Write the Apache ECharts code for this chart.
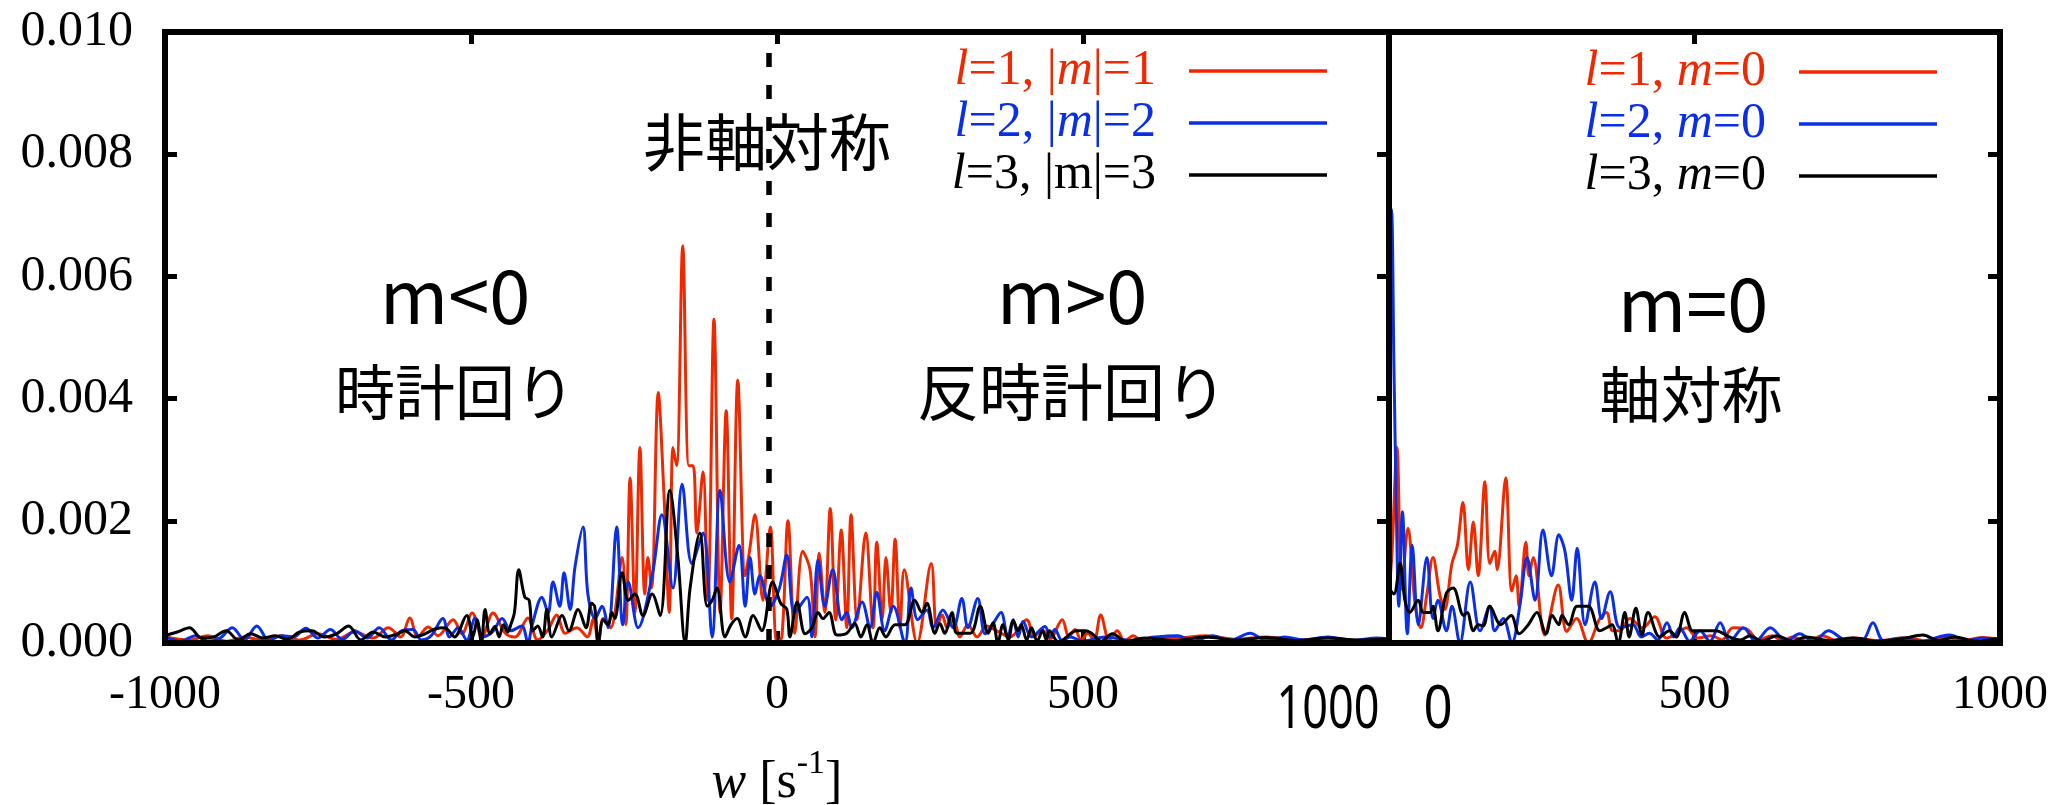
<!DOCTYPE html>
<html>
<head>
<meta charset="utf-8">
<script src="https://cdn.jsdelivr.net/npm/echarts@6/dist/echarts.min.js"></script>
<style>html,body{margin:0;padding:0;background:#fff}#c{width:2069px;height:805px}</style>
</head>
<body>
<div id="c"></div>
<script>
// ---------- data (w [s^-1], value) ----------
const leftRed = [[-1000,0.0001],[-960,0.00005],[-930,0.00012],[-900,0.00003],[-870,0.0001],[-840,0.00004],[-810,0.00012],[-780,0.00005],[-750,0.00015],[-720,0.00006],[-690,0.00018],[-660,0.00008],[-635,0.00025],[-615,0.0001],[-600,0.00041],[-587,0.0001],[-570,0.00026],[-554,0.00012],[-529,0.00038],[-515,0.00015],[-498,0.00049],[-482,0.0001],[-464,0.00049],[-444,0.00016],[-428,0.0001],[-407,0.00041],[-391,0.00005],[-374,0.00022],[-360,0.00046],[-346,0.00016],[-327,0.00025],[-310,0.0001],[-300,0.0004],[-292,0.0],[-284,0.0004],[-272,0.00025],[-253,0.0014],[-247,0.0003],[-240,0.0027],[-232,0.0005],[-224,0.0032],[-216,0.0008],[-211,0.0014],[-205,0.0009],[-194,0.0041],[-185,0.0025],[-176,0.0005],[-170,0.0032],[-164,0.0029],[-154,0.0065],[-144,0.0029],[-137,0.0029],[-131,0.0018],[-121,0.0028],[-113,0.0007],[-103,0.0053],[-93,0.0005],[-83,0.0038],[-74,0.0004],[-64,0.0043],[-52,0.0011],[-45,0.0015],[-36,0.0021],[-23,0.0007],[-11,0.0019],[0,0.0],[8,0.0001],[18,0.0020],[29,0.00016],[42,0.0015],[54,0.0012],[62,0.0001],[69,0.00147],[78,0.0005],[87,0.0022],[96,0.00038],[105,0.00185],[114,0.00025],[121,0.0021],[131,0.00038],[145,0.0018],[157,0.00025],[163,0.00165],[172,0.0004],[178,0.0014],[186,0.0005],[193,0.0017],[201,0.00025],[208,0.0012],[229,0.0],[252,0.0013],[261,0.00025],[270,0.00046],[278,0.00025],[288,0.0004],[299,0.0001],[312,0.0003],[327,0.0001],[343,0.00028],[359,0.0002],[381,0.0001],[408,0.00038],[420,0.0001],[433,0.00022],[446,0.00007],[466,0.00038],[477,0.0001],[487,0.00022],[497,0.00005],[508,0.00016],[518,0.00004],[529,0.00046],[543,0.00005],[556,0.0002],[568,0.00003],[582,0.00012],[597,0.00003],[614,0.0001],[650,0.00008],[700,0.00012],[750,0.00006],[800,0.0001],[850,0.00005],[900,0.00008],[950,0.00004],[1000,0.00006]];

const leftBlue = [[-1000,0.0001],[-975,0.00003],[-950,0.00012],[-930,0.00003],[-910,0.00008],[-890,0.00025],[-870,0.00005],[-850,0.00028],[-830,0.00004],[-810,0.00012],[-790,0.0001],[-770,0.00024],[-750,0.00008],[-730,0.00022],[-710,0.00006],[-690,0.0002],[-670,0.00008],[-650,0.00025],[-630,0.00005],[-613,0.0002],[-595,0.00022],[-581,0.00005],[-565,0.00012],[-546,0.0004],[-535,0.0001],[-521,0.00025],[-507,0.00005],[-493,0.00041],[-480,0.0001],[-465,0.00018],[-449,0.0004],[-435,0.0002],[-417,0.00028],[-407,0.0],[-400,0.0003],[-384,0.00075],[-374,0.00049],[-366,0.001],[-355,0.0006],[-348,0.00115],[-338,0.00055],[-330,0.00125],[-317,0.0019],[-309,0.0008],[-297,0.0004],[-286,0.0006],[-276,0.00025],[-262,0.0019],[-252,0.0003],[-243,0.001],[-227,0.00025],[-204,0.0011],[-188,0.0021],[-170,0.0009],[-155,0.0026],[-139,0.0013],[-121,0.0018],[-106,0.0001],[-93,0.0025],[-77,0.001],[-62,0.0016],[-52,0.0006],[-44,0.0014],[-36,0.0008],[-28,0.0011],[-11,0.0006],[4,0.0009],[16,0.00144],[29,0.0005],[49,0.00075],[57,0.0001],[67,0.00136],[78,0.0006],[91,0.0012],[106,0.00038],[114,0.0005],[122,0.00025],[139,0.00067],[152,0.00025],[163,0.00083],[176,0.0002],[190,0.0006],[209,0.0],[219,0.0009],[230,0.00038],[245,0.00054],[255,0.00025],[271,0.00054],[288,0.00025],[302,0.00073],[312,0.00025],[328,0.00073],[340,0.00015],[352,0.0003],[366,0.0005],[377,0.0001],[386,0.00038],[394,0.0001],[402,0.00035],[416,0.0001],[438,0.00027],[446,0.0001],[454,0.00022],[466,0.00004],[479,0.0001],[500,0.00003],[536,0.0001],[580,0.00004],[620,0.0001],[655,0.00012],[680,0.00003],[712,0.00012],[740,0.00004],[773,0.00016],[800,0.00004],[830,0.0001],[860,0.00005],[900,0.0001],[940,0.00004],[980,0.00008],[1000,0.00006]];

const leftBlack = [[-1000,0.00012],[-980,0.00018],[-960,0.00025],[-940,0.00008],[-920,0.0001],[-900,0.0002],[-880,0.00005],[-860,0.00015],[-840,0.00008],[-820,0.00012],[-800,0.00006],[-780,0.00018],[-760,0.0002],[-740,0.0001],[-720,0.00015],[-700,0.00028],[-680,0.00005],[-660,0.00018],[-640,0.0001],[-620,0.00015],[-608,0.0002],[-592,0.0001],[-575,0.00015],[-559,0.00023],[-543,0.00025],[-527,0.0001],[-507,0.00045],[-497,0.0001],[-490,0.00038],[-483,0.0],[-477,0.00055],[-469,0.00015],[-461,0.00027],[-454,0.0001],[-447,0.0003],[-440,0.00018],[-435,0.0003],[-429,0.0005],[-422,0.0012],[-412,0.00075],[-405,0.0007],[-399,0.0002],[-391,0.00028],[-383,0.0001],[-376,0.00055],[-368,0.0001],[-351,0.00045],[-340,0.0002],[-325,0.00055],[-312,0.00025],[-303,0.00065],[-298,0.0006],[-292,0.0],[-284,0.00038],[-276,0.0003],[-270,0.0005],[-265,0.0004],[-253,0.00115],[-243,0.0007],[-232,0.0008],[-219,0.00045],[-204,0.0008],[-191,0.00045],[-175,0.0025],[-162,0.0014],[-150,0.0],[-142,0.0009],[-126,0.0018],[-114,0.0006],[-106,0.0007],[-98,0.0009],[-85,0.0001],[-75,0.0003],[-65,0.0004],[-52,0.0001],[-39,0.00045],[-25,0.0002],[-7,0.001],[6,0.00065],[16,0.00055],[21,0.0001],[33,0.00067],[46,0.00015],[57,0.00025],[67,0.0005],[75,0.0004],[85,0.0005],[98,0.00013],[114,0.00016],[127,0.00032],[137,0.0001],[147,0.0003],[157,0.0],[168,0.00025],[178,0.0001],[193,0.0003],[209,0.0003],[225,0.0007],[237,0.0005],[245,0.00065],[258,0.00016],[266,0.00032],[274,0.00016],[286,0.0005],[294,0.00016],[316,0.00016],[332,0.0006],[345,0.00016],[353,0.00033],[361,0.0],[369,0.0003],[378,0.00005],[386,0.00037],[394,0.0002],[399,0.0003],[408,0.00005],[416,0.00025],[425,0.00003],[434,0.0002],[440,0.00005],[445,0.0002],[460,0.00002],[490,0.0002],[505,0.0002],[515,0.00015],[530,0.00003],[548,0.00015],[570,0.00003],[600,0.00008],[650,0.00004],[700,0.0001],[750,0.00005],[800,0.00009],[850,0.00004],[900,0.00008],[950,0.00005],[1000,0.00007]];

const rightRed = [[0,0.0008],[5,0.0015],[13,0.0032],[21,0.00088],[31,0.00188],[43,0.0006],[52,0.00025],[62,0.0008],[72,0.0014],[83,0.0008],[91,0.00055],[103,0.0013],[112,0.0016],[121,0.0023],[130,0.0012],[138,0.00198],[146,0.0011],[157,0.00264],[165,0.0013],[173,0.0015],[177,0.0012],[191,0.0027],[201,0.00085],[208,0.0011],[213,0.0006],[224,0.00165],[229,0.0011],[236,0.0014],[255,0.00013],[277,0.00095],[291,0.00019],[307,0.0004],[326,0.0],[345,0.0004],[356,0.0005],[366,0.0002],[378,0.0002],[394,0.0004],[415,0.00025],[435,0.00043],[454,0.00008],[470,0.00015],[487,0.00025],[505,0.00008],[528,0.00012],[545,0.00005],[563,0.00025],[585,0.00023],[605,0.00005],[627,0.00012],[645,0.00003],[660,0.0001],[685,0.00003],[709,0.00012],[735,0.00003],[760,0.00008],[800,0.00004],[850,0.00009],[880,0.00003],[909,0.0001],[940,0.00004],[970,0.00009],[1000,0.00006]];

const rightBlue = [[0,0.0062],[4,0.0071],[8,0.0046],[12,0.0022],[16,0.0006],[22,0.00215],[30,0.00015],[38,0.0016],[48,0.0003],[62,0.0014],[72,0.0004],[80,0.0007],[94,0.0002],[103,0.0006],[116,0.0],[133,0.001],[149,0.0002],[165,0.0006],[173,0.0002],[187,0.0004],[201,0.0],[214,0.0006],[226,0.0014],[239,0.0007],[252,0.00185],[266,0.0011],[278,0.00177],[288,0.0015],[299,0.0007],[308,0.00155],[321,0.0003],[337,0.001],[348,0.0004],[362,0.00084],[378,0.00025],[399,0.0003],[413,0.0001],[426,0.00016],[440,0.00005],[455,0.00033],[466,0.0001],[476,0.00025],[492,0.00003],[509,0.0002],[525,0.00003],[542,0.00033],[558,0.00003],[580,0.00025],[600,0.00003],[624,0.00025],[650,0.00003],[672,0.00015],[695,0.00002],[719,0.0002],[750,0.00004],[775,0.00005],[792,0.00033],[810,0.00003],[840,0.00008],[870,0.00003],[900,0.0001],[918,0.00013],[945,0.00003],[970,0.00008],[1000,0.00005]];

const rightBlack = [[0,0.0009],[8,0.0008],[18,0.0013],[26,0.0007],[34,0.0005],[48,0.0007],[56,0.0005],[67,0.0005],[72,0.0006],[80,0.0002],[94,0.00082],[105,0.0009],[122,0.00045],[128,0.0005],[138,0.0002],[146,0.0003],[154,0.00028],[165,0.0006],[183,0.0003],[200,0.00045],[213,0.00015],[228,0.0003],[242,0.0005],[257,0.00015],[267,0.00045],[278,0.0003],[283,0.00045],[294,0.0003],[308,0.0006],[326,0.0006],[345,0.0002],[356,0.00025],[365,0.0003],[375,0.0],[386,0.0005],[393,0.0001],[404,0.00057],[414,0.00013],[424,0.0005],[443,0.0001],[459,0.0002],[470,0.0001],[484,0.0005],[497,0.0002],[513,0.0002],[535,0.0002],[557,0.0001],[575,0.00005],[591,0.00012],[610,0.00003],[635,0.00012],[660,0.00003],[683,0.0001],[720,0.00004],[760,0.00008],[800,0.00003],[840,0.00007],[874,0.00013],[900,0.00004],[926,0.0001],[960,0.00003],[1000,0.00008]];

const leftXTickLabels = [-1000, -500, 0, 500];   // 1000 is drawn as a separate overlay text
const rightXTickLabels = [500, 1000];            // 0 is drawn as a separate overlay text
const dashedAt = -14;

const seriesNames = ['l=1, |m|=1', 'l=2, |m|=2', 'l=3, |m|=3', 'l=1, m=0', 'l=2, m=0', 'l=3, m=0'];
const legendRich = [
  '{i|l}{n|=1, |}{i|m}{n||=1}{g|}',
  '{i|l}{n|=2, |}{i|m}{n||=2}{g|}',
  '{i|l}{n|=3, |m|=3}{g|}',
  '{i|l}{n|=1, }{i|m}{n|=0}{g|}',
  '{i|l}{n|=2, }{i|m}{n|=0}{g|}',
  '{i|l}{n|=3, }{i|m}{n|=0}{g|}'
];
const RED = '#f02800', BLUE = '#0a2fe6', BLACK = '#000000';
const colors = [RED, BLUE, BLACK, RED, BLUE, BLACK];

// ---------- chart ----------
const chart = echarts.init(document.getElementById('c'), null, {renderer: 'canvas'});
const SERIF = 'Liberation Serif';
const CJK = 'Noto Sans CJK JP';

const G = {top: 32, height: 611};
const tickStyle = {show: true, inside: true, length: 12, lineStyle: {color: '#000', width: 5}};
const noLine = {show: false, onZero: false};

function legendFor(idx, rightPx, cy) {
  const c = colors[idx];
  return {
    data: [seriesNames[idx]], orient: 'vertical', align: 'right', right: rightPx, top: cy - 25,
    padding: 0, itemGap: 0, icon: 'rect', itemWidth: 138, itemHeight: 3.5, selectedMode: false,
    formatter: () => legendRich[idx],
    textStyle: {
      color: c, fontFamily: SERIF, fontSize: 50, lineHeight: 50,
      rich: {
        i: {fontFamily: SERIF, fontStyle: 'italic', fontSize: 50, color: c, lineHeight: 50},
        n: {fontFamily: SERIF, fontSize: 50, color: c, lineHeight: 50},
        g: {width: 28}
      }
    }
  };
}

function lineSeries(name, data, color, xi, yi, extra) {
  return Object.assign({
    name, type: 'line', data, xAxisIndex: xi, yAxisIndex: yi,
    showSymbol: false, symbol: 'none', smooth: 0.35, clip: true,
    lineStyle: {color, width: 3}, itemStyle: {color}, z: 3
  }, extra || {});
}

const option = {
  animation: false,
  backgroundColor: '#fff',
  grid: [
    {left: 165, top: G.top, width: 1224, height: G.height, show: true, borderColor: '#000', borderWidth: 6, backgroundColor: 'transparent', z: 10, outerBoundsMode: 'none', containLabel: false},
    {left: 1389, top: G.top, width: 611, height: G.height, show: true, borderColor: '#000', borderWidth: 6, backgroundColor: 'transparent', z: 10, outerBoundsMode: 'none', containLabel: false}
  ],
  xAxis: [
    {gridIndex: 0, type: 'value', position: 'bottom', min: -1000, max: 1000, interval: 500,
     axisLine: noLine, axisTick: tickStyle, splitLine: {show: false},
     axisLabel: {margin: 28, fontFamily: SERIF, fontSize: 48, color: '#000',
       formatter: v => leftXTickLabels.indexOf(v) >= 0 ? String(v) : ''},
     name: '{i|w}{n| [s}{s|-1}{n|]}', nameLocation: 'middle', nameGap: 104,
     nameTextStyle: {rich: {
       i: {fontFamily: SERIF, fontStyle: 'italic', fontSize: 52, color: '#000', lineHeight: 62, verticalAlign: 'bottom'},
       n: {fontFamily: SERIF, fontSize: 52, color: '#000', lineHeight: 62, verticalAlign: 'bottom'},
       s: {fontFamily: SERIF, fontSize: 34, color: '#000', lineHeight: 30, verticalAlign: 'top'}
     }}},
    {gridIndex: 0, type: 'value', position: 'top', min: -1000, max: 1000, interval: 500,
     axisLine: noLine, axisTick: tickStyle, axisLabel: {show: false}, splitLine: {show: false}},
    {gridIndex: 1, type: 'value', position: 'bottom', min: 0, max: 1000, interval: 500,
     axisLine: noLine, axisTick: tickStyle, splitLine: {show: false},
     axisLabel: {margin: 28, fontFamily: SERIF, fontSize: 48, color: '#000',
       formatter: v => rightXTickLabels.indexOf(v) >= 0 ? String(v) : ''}},
    {gridIndex: 1, type: 'value', position: 'top', min: 0, max: 1000, interval: 500,
     axisLine: noLine, axisTick: tickStyle, axisLabel: {show: false}, splitLine: {show: false}}
  ],
  yAxis: [
    {gridIndex: 0, type: 'value', position: 'left', min: 0, max: 0.01, interval: 0.002,
     axisLine: noLine, axisTick: tickStyle, splitLine: {show: false},
     axisLabel: {margin: 32, fontFamily: SERIF, fontSize: 50, color: '#000', formatter: v => v.toFixed(3)}},
    {gridIndex: 0, type: 'value', position: 'right', min: 0, max: 0.01, interval: 0.002,
     axisLine: noLine, axisTick: tickStyle, axisLabel: {show: false}, splitLine: {show: false}},
    {gridIndex: 1, type: 'value', position: 'left', min: 0, max: 0.01, interval: 0.002,
     axisLine: noLine, axisTick: {show: false}, axisLabel: {show: false}, splitLine: {show: false}},
    {gridIndex: 1, type: 'value', position: 'right', min: 0, max: 0.01, interval: 0.002,
     axisLine: noLine, axisTick: tickStyle, axisLabel: {show: false}, splitLine: {show: false}}
  ],
  legend: [
    legendFor(0, 742, 71), legendFor(1, 742, 123), legendFor(2, 742, 175),
    legendFor(3, 132, 72), legendFor(4, 132, 124), legendFor(5, 132, 176)
  ],
  series: [
    lineSeries(seriesNames[0], leftRed, RED, 0, 0),
    lineSeries(seriesNames[1], leftBlue, BLUE, 0, 0),
    lineSeries(seriesNames[2], leftBlack, BLACK, 0, 0, {
      markLine: {silent: true, symbol: ['none', 'none'], label: {show: false},
        lineStyle: {type: [14, 18], color: '#000', width: 5.5}, data: [{xAxis: dashedAt}]}
    }),
    lineSeries(seriesNames[3], rightRed, RED, 2, 2),
    lineSeries(seriesNames[4], rightBlue, BLUE, 2, 2),
    lineSeries(seriesNames[5], rightBlack, BLACK, 2, 2)
  ],
  graphic: [
    {type: 'text', x: 767, y: 142, z: 100, style: {text: '非軸対称', fontFamily: CJK, fontSize: 62, fill: '#000', align: 'center', verticalAlign: 'middle'}},
    {type: 'text', x: 455, y: 296, z: 100, style: {text: 'm<0', fontFamily: CJK, fontSize: 74, fill: '#000', align: 'center', verticalAlign: 'middle'}},
    {type: 'text', x: 455, y: 392, z: 100, style: {text: '時計回り', fontFamily: CJK, fontSize: 60, fill: '#000', align: 'center', verticalAlign: 'middle'}},
    {type: 'text', x: 1072, y: 296, z: 100, style: {text: 'm>0', fontFamily: CJK, fontSize: 74, fill: '#000', align: 'center', verticalAlign: 'middle'}},
    {type: 'text', x: 1072, y: 392, z: 100, style: {text: '反時計回り', fontFamily: CJK, fontSize: 62, fill: '#000', align: 'center', verticalAlign: 'middle'}},
    {type: 'text', x: 1693, y: 304, z: 100, style: {text: 'm=0', fontFamily: CJK, fontSize: 74, fill: '#000', align: 'center', verticalAlign: 'middle'}},
    {type: 'text', x: 1691, y: 395, z: 100, style: {text: '軸対称', fontFamily: CJK, fontSize: 61, fill: '#000', align: 'center', verticalAlign: 'middle'}},
    {type: 'text', x: 1328, y: 711, z: 100, scaleX: 0.75, style: {text: '1000', fontFamily: 'Noto Sans', fontSize: 60, fill: '#000', align: 'center', verticalAlign: 'middle'}},
    {type: 'text', x: 1438, y: 711, z: 100, scaleX: 0.85, style: {text: '0', fontFamily: 'Noto Sans', fontSize: 60, fill: '#000', align: 'center', verticalAlign: 'middle'}}
  ]
};
chart.setOption(option);
</script>
</body>
</html>
